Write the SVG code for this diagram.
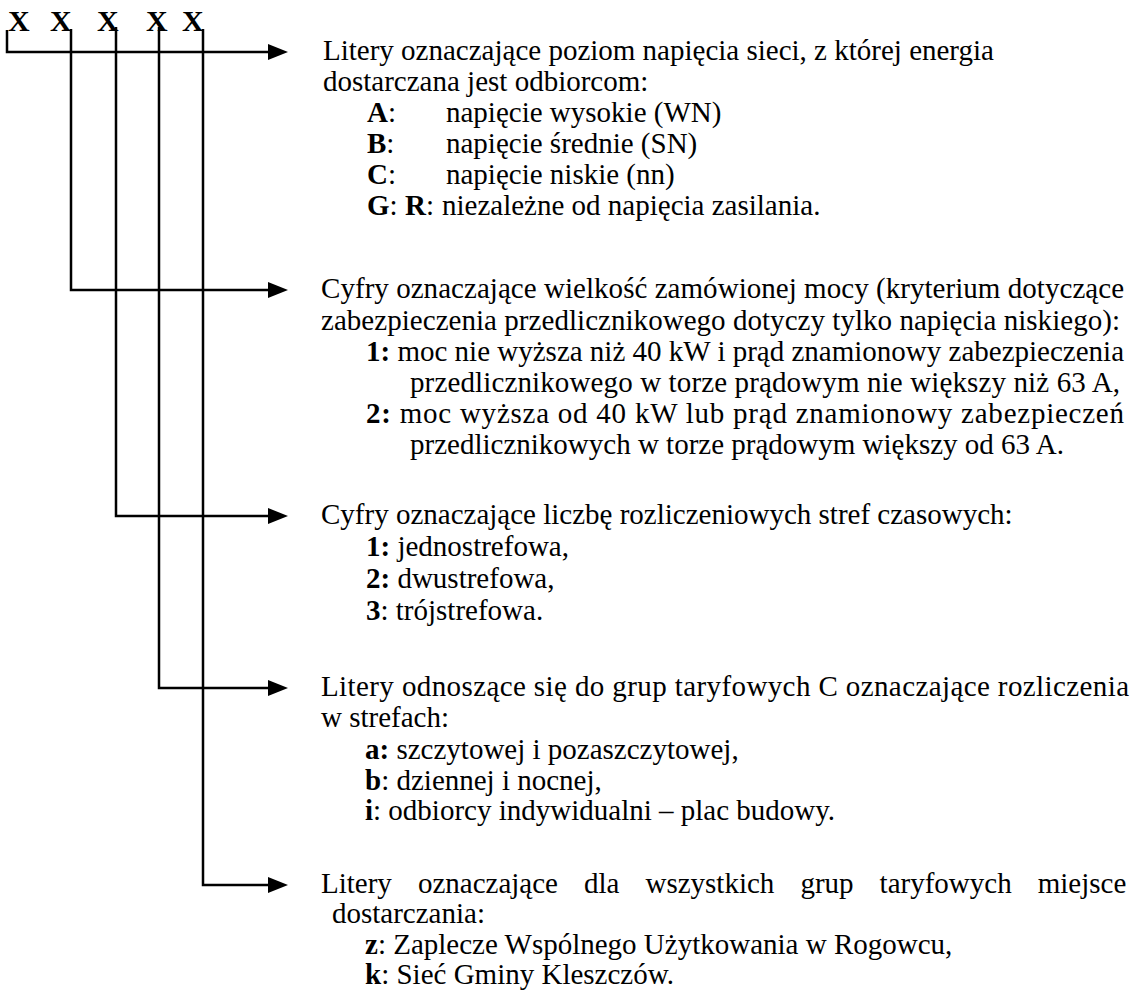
<svg xmlns="http://www.w3.org/2000/svg" width="1137" height="993" viewBox="0 0 1137 993">
<defs>
<style>
text{font-family:"Liberation Serif","Times New Roman",serif;font-size:29px;fill:#000}
.b{font-weight:bold}
.x{font-weight:bold;font-size:30px}
.c{fill:none;stroke:#000;stroke-width:2.5}
.h{fill:#000}
</style>
</defs>
<rect width="1137" height="993" fill="#fff"/>
<g id="code">
<text class="x" x="8" y="31">X</text>
<text class="x" x="50" y="31">X</text>
<text class="x" x="97" y="31">X</text>
<text class="x" x="146" y="31">X</text>
<text class="x" x="182" y="31">X</text>
</g>
<g id="connectors">
<path class="c" d="M7,30 V52 H270"/>
<path class="c" d="M71,29 V290 H270"/>
<path class="c" d="M116,27 V516 H270"/>
<path class="c" d="M159,27 V688 H270"/>
<path class="c" d="M203,29 V885 H270"/>
<path class="h" d="M268,44 L288,52 L268,60 Z"/>
<path class="h" d="M268,282 L288,290 L268,298 Z"/>
<path class="h" d="M268,508 L288,516 L268,524 Z"/>
<path class="h" d="M268,680 L288,688 L268,696 Z"/>
<path class="h" d="M268,877 L288,885 L268,893 Z"/>
</g>
<g id="n1">
<text x="323" y="60">Litery oznaczające poziom napięcia sieci, z której energia</text>
<text x="323" y="91">dostarczana jest odbiorcom:</text>
<text x="367" y="122"><tspan class="b">A</tspan>:</text><text x="446" y="122">napięcie wysokie (WN)</text>
<text x="367" y="153"><tspan class="b">B</tspan>:</text><text x="446" y="153">napięcie średnie (SN)</text>
<text x="367" y="184"><tspan class="b">C</tspan>:</text><text x="446" y="184">napięcie niskie (nn)</text>
<text x="367" y="215"><tspan class="b">G</tspan>:<tspan x="405" class="b">R</tspan>:<tspan x="442">niezależne od napięcia zasilania.</tspan></text>
</g>
<g id="n2">
<text x="321" y="298" textLength="803" lengthAdjust="spacing">Cyfry oznaczające wielkość zamówionej mocy (kryterium dotyczące</text>
<text x="321" y="330" textLength="799" lengthAdjust="spacing">zabezpieczenia przedlicznikowego dotyczy tylko napięcia niskiego):</text>
<text x="366" y="361" textLength="758" lengthAdjust="spacing"><tspan class="b">1:</tspan> moc nie wyższa niż 40 kW i prąd znamionowy zabezpieczenia</text>
<text x="410" y="392" textLength="710" lengthAdjust="spacing">przedlicznikowego w torze prądowym nie większy niż 63 A,</text>
<text x="366" y="423" textLength="758" lengthAdjust="spacing"><tspan class="b">2:</tspan>  moc wyższa od 40 kW lub prąd znamionowy zabezpieczeń</text>
<text x="410" y="454">przedlicznikowych w torze prądowym większy od 63 A.</text>
</g>
<g id="n3">
<text x="321" y="524">Cyfry oznaczające liczbę rozliczeniowych stref czasowych:</text>
<text x="366" y="556"><tspan class="b">1:</tspan> jednostrefowa,</text>
<text x="366" y="588"><tspan class="b">2:</tspan> dwustrefowa,</text>
<text x="366" y="620"><tspan class="b">3</tspan>: trójstrefowa.</text>
</g>
<g id="n4">
<text x="321" y="696" textLength="808" lengthAdjust="spacing">Litery odnoszące się do grup taryfowych C oznaczające rozliczenia</text>
<text x="321" y="727">w strefach:</text>
<text x="365" y="759"><tspan class="b">a:</tspan> szczytowej i pozaszczytowej,</text>
<text x="365" y="790"><tspan class="b">b</tspan>: dziennej i nocnej,</text>
<text x="365" y="820"><tspan class="b">i</tspan>: odbiorcy indywidualni – plac budowy.</text>
</g>
<g id="n5">
<text x="321" y="893" word-spacing="18.8">Litery oznaczające dla wszystkich grup taryfowych miejsce</text>
<text x="332" y="923">dostarczania:</text>
<text x="365" y="954"><tspan class="b">z</tspan>: Zaplecze Wspólnego Użytkowania w Rogowcu,</text>
<text x="365" y="984"><tspan class="b">k</tspan>: Sieć Gminy Kleszczów.</text>
</g>
</svg>
